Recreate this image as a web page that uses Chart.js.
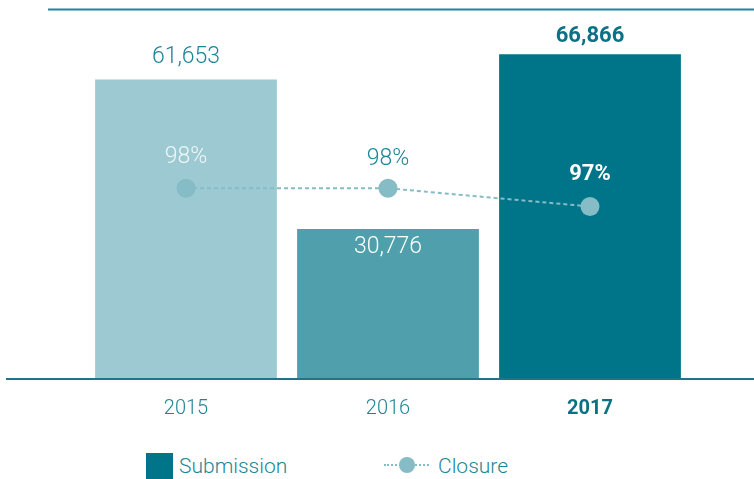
<!DOCTYPE html>
<html>
<head>
<meta charset="utf-8">
<script src="https://cdn.jsdelivr.net/npm/chart.js@4"></script>
<style>
  body { margin: 0; background: #fff; font-family: Roboto, "Liberation Sans", sans-serif; font-weight: 300; }
  #wrap { position: relative; width: 754px; height: 440px; }
  #legend { position: absolute; top: 453px; left: 146px; height: 26px; display: flex; align-items: center; color: #1d8597; font-size: 21px; }
  .sq { width: 27px; height: 26px; background: #007589; margin-right: 6px; }
  .lab1 { width: 111px; white-space: nowrap; }
  .ln { position: relative; width: 45px; height: 2px; border-top: 2px dotted #85bcc6; margin-left: 94px; margin-right: 9px; }
  .ln span { position: absolute; left: 15px; top: -9px; width: 16px; height: 16px; border-radius: 50%; background: #85bcc6; }
</style>
</head>
<body>
<div id="wrap"><canvas id="chart"></canvas></div>
<div id="legend">
  <div class="sq"></div><div class="lab1">Submission</div>
  <div class="ln"><span></span></div><div>Closure</div>
</div>
<script>
// data
const years = ['2015', '2016', '2017'];
const submissions = [61653, 30776, 66866];
const closureRate = [98, 98, 97];

// styles
const barColors = ['#9dcad2', '#4fa0ac', '#007589'];
const teal = '#1d8597';

// value labels + frame lines
const labelsPlugin = {
  id: 'labels',
  afterDatasetsDraw(chart) {
    const ctx = chart.ctx;
    const area = chart.chartArea;
    ctx.save();

    // top rule and baseline
    ctx.strokeStyle = '#1a87a0';
    ctx.lineWidth = 2;
    ctx.beginPath(); ctx.moveTo(48, area.top); ctx.lineTo(754, area.top); ctx.stroke();
    ctx.strokeStyle = '#1f7585';
    ctx.beginPath(); ctx.moveTo(6, area.bottom + 1); ctx.lineTo(754, area.bottom + 1); ctx.stroke();

    ctx.textAlign = 'center';
    ctx.textBaseline = 'middle';

    // submission numbers
    const bars = chart.getDatasetMeta(0).data;
    bars.forEach((b, i) => {
      const txt = submissions[i].toLocaleString('en-US');
      if (i === 0) {
        ctx.font = '300 23px Roboto';
        ctx.fillStyle = teal;
        ctx.fillText(txt, b.x, b.y - 22);
      } else if (i === 1) {
        ctx.font = '300 23px Roboto';
        ctx.fillStyle = '#ffffff';
        ctx.fillText(txt, b.x, b.y + 18);
      } else {
        ctx.font = 'bold 22px Roboto';
        ctx.fillStyle = '#0b7285';
        ctx.fillText(txt, b.x, b.y - 18);
      }
    });

    // closure percentages
    const pts = chart.getDatasetMeta(1).data;
    pts.forEach((p, i) => {
      const txt = closureRate[i] + '%';
      if (i === 0) {
        ctx.font = '300 23px Roboto';
        ctx.fillStyle = '#eef6f8';
        ctx.fillText(txt, p.x, p.y - 31);
      } else if (i === 1) {
        ctx.font = '300 23px Roboto';
        ctx.fillStyle = teal;
        ctx.fillText(txt, p.x, p.y - 29);
      } else {
        ctx.font = 'bold 22px Roboto';
        ctx.fillStyle = '#ffffff';
        ctx.fillText(txt, p.x, p.y - 32);
      }
    });
    ctx.restore();
  }
};

new Chart(document.getElementById('chart'), {
  data: {
    labels: years,
    datasets: [
      {
        type: 'bar',
        label: 'Submission',
        data: submissions,
        backgroundColor: barColors,
        barPercentage: 0.9,
        categoryPercentage: 1,
        yAxisID: 'y',
        order: 1
      },
      {
        type: 'line',
        label: 'Closure',
        data: closureRate,
        borderColor: '#85bcc6',
        borderWidth: 2,
        borderDash: [4, 3],
        pointRadius: 9.5,
        pointBackgroundColor: '#85bcc6',
        pointBorderWidth: 0,
        yAxisID: 'y1',
        order: 0
      }
    ]
  },
  options: {
    responsive: true,
    maintainAspectRatio: false,
    animation: false,
    layout: { padding: { left: 85, right: 63, top: 6, bottom: 0 } },
    plugins: { legend: { display: false }, tooltip: { enabled: false } },
    scales: {
      x: {
        grid: { display: false, drawTicks: false },
        border: { display: false },
        ticks: {
          padding: 19,
          color: ctx => ctx.index === 2 ? '#0b7285' : teal,
          font: ctx => ctx.index === 2
            ? { family: 'Roboto', size: 20, weight: 'bold' }
            : { family: 'Roboto', size: 20, weight: '300' }
        }
      },
      y: { display: false, min: 0, max: 76100 },
      y1: { display: false, min: 87.6, max: 107.8 }
    }
  },
  plugins: [labelsPlugin]
});
</script>
</body>
</html>
